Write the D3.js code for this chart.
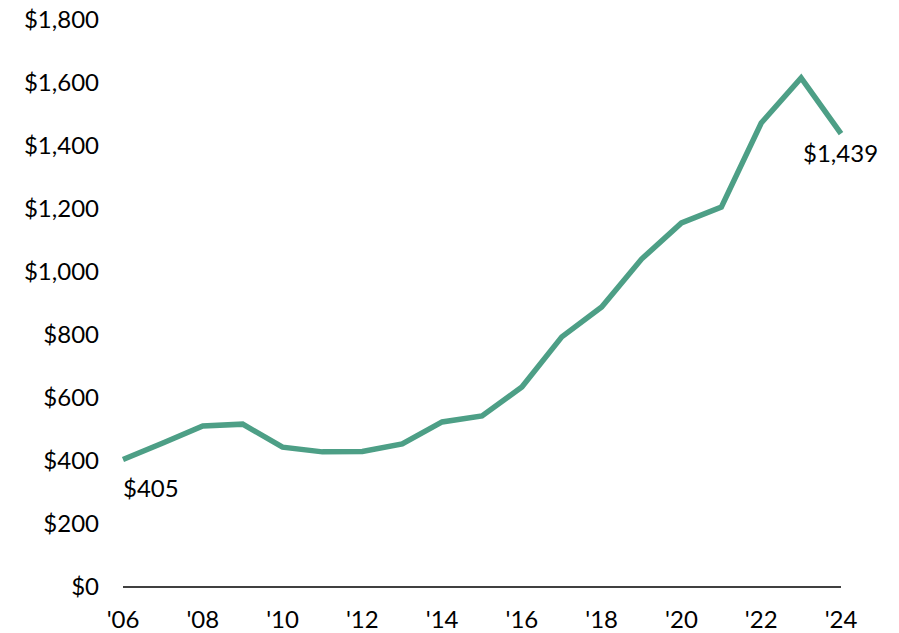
<!DOCTYPE html>
<html>
<head>
<meta charset="utf-8">
<script src="https://cdn.jsdelivr.net/npm/d3@7"></script>
<style>
  body { margin: 0; background: #fff; }
  text { font-family: Lato, "Noto Sans", sans-serif; fill: #000; }
</style>
</head>
<body>
<div class="chart"></div>
<script>
const years = [2006, 2007, 2008, 2009, 2010, 2011, 2012, 2013, 2014, 2015,
               2016, 2017, 2018, 2019, 2020, 2021, 2022, 2023, 2024];
const values = [405, 457, 511, 517, 444, 429, 430, 454, 524, 543,
                635, 794, 889, 1041, 1156, 1206, 1473, 1616, 1439];
const yTicks = [0, 200, 400, 600, 800, 1000, 1200, 1400, 1600, 1800];
const xTicks = [2006, 2008, 2010, 2012, 2014, 2016, 2018, 2020, 2022, 2024];

const width = 899;
const height = 633;
const margin = { top: 20, right: 58, bottom: 46, left: 123 };

const svg = d3.select('.chart')
  .append('svg')
  .attr('width', width)
  .attr('height', height);

const x = d3.scaleLinear()
  .domain([2006, 2024])
  .range([margin.left, width - margin.right]);

const y = d3.scaleLinear()
  .domain([0, 1800])
  .range([height - margin.bottom, margin.top]);

const fmt = v => '$' + d3.format(',')(v);
const fs = '24px';

// y axis labels (no line)
svg.append('g')
  .selectAll('text')
  .data(yTicks)
  .join('text')
  .attr('x', 99)
  .attr('y', d => y(d))
  .attr('dy', '0.35em')
  .attr('text-anchor', 'end')
  .attr('font-size', fs)
  .text(fmt);

// x axis baseline
svg.append('line')
  .attr('x1', x(2006))
  .attr('x2', x(2024))
  .attr('y1', y(0))
  .attr('y2', y(0))
  .attr('stroke', '#000')
  .attr('stroke-width', 1.5);

svg.append('g')
  .selectAll('text')
  .data(xTicks)
  .join('text')
  .attr('x', d => x(d))
  .attr('y', y(0) + 41)
  .attr('text-anchor', 'middle')
  .attr('font-size', fs)
  .text(d => "'" + String(d).slice(2));

const line = d3.line()
  .x((d, i) => x(years[i]))
  .y(d => y(d));

svg.append('path')
  .datum(values)
  .attr('fill', 'none')
  .attr('stroke', '#4d9f86')
  .attr('stroke-width', 5.5)
  .attr('stroke-linejoin', 'miter')
  .attr('d', line);

// end labels
svg.append('text')
  .attr('x', x(2006))
  .attr('y', y(values[0]) + 38)
  .attr('font-size', fs)
  .text(fmt(values[0]));

svg.append('text')
  .attr('x', x(2024) - 38)
  .attr('y', y(values[values.length - 1]) + 28)
  .attr('font-size', fs)
  .text(fmt(values[values.length - 1]));
</script>
</body>
</html>
